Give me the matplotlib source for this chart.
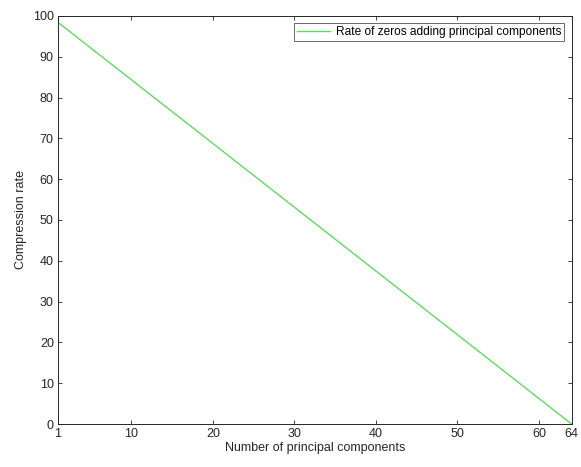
import matplotlib.pyplot as plt

plt.rcParams['font.family'] = ['Liberation Sans', 'DejaVu Sans']

# values
n_components = [1, 64]
compression_rate = [98.4, 0]
x_ticks = [1, 10, 20, 30, 40, 50, 60, 64]
y_ticks = [0, 10, 20, 30, 40, 50, 60, 70, 80, 90, 100]

fig = plt.figure(figsize=(5.81, 4.67), dpi=100)
ax = fig.add_axes([0.0998, 0.092, 0.884, 0.874])

ax.plot(n_components, compression_rate, color='#5fdc5f', linewidth=1,
        label='Rate of zeros adding principal components')

ax.set_xlim(1, 64)
ax.set_ylim(0, 100)
ax.set_xticks(x_ticks)
ax.set_yticks(y_ticks)
ax.tick_params(direction='in', top=True, right=True, length=3, width=0.6,
               labelsize=9, colors='#262626', pad=3)
for s in ax.spines.values():
    s.set_linewidth(0.7)
    s.set_color('#262626')

ax.set_xlabel('Number of principal components', fontsize=9, color='#262626', labelpad=1)
ax.set_ylabel('Compression rate', fontsize=9, color='#262626', labelpad=4)

leg = ax.legend(loc='upper right', fontsize=8.6, frameon=True, fancybox=False,
                edgecolor='#262626', borderpad=0.25, handlelength=2.8,
                handletextpad=0.5, borderaxespad=0.6)
leg.get_frame().set_linewidth(0.6)

fig.savefig('out.png', dpi=100)
